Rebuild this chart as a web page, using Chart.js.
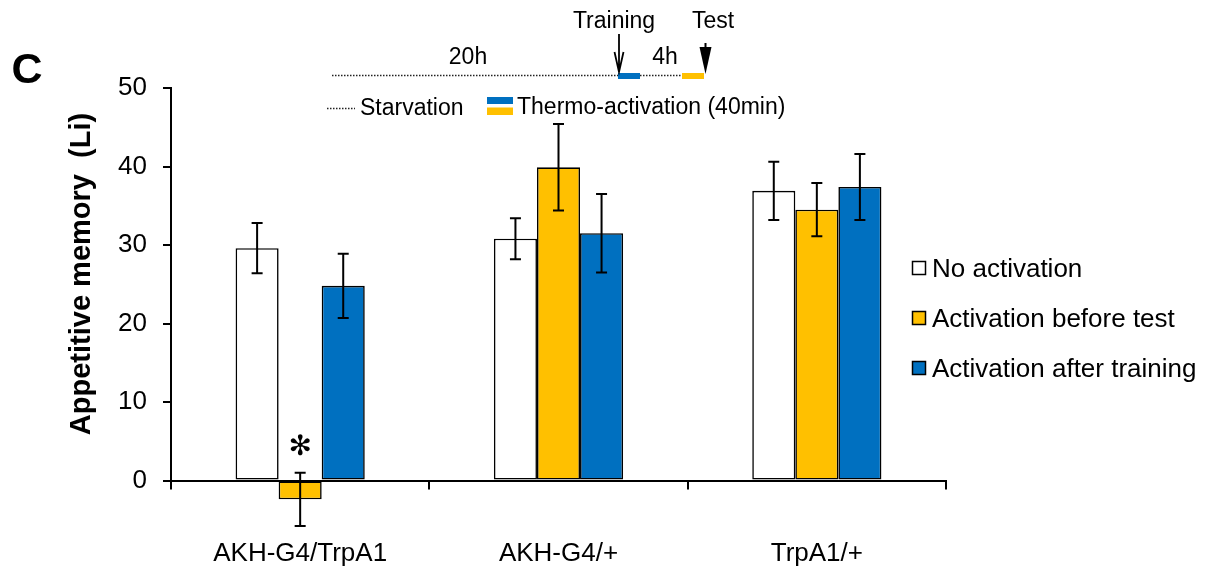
<!DOCTYPE html>
<html>
<head>
<meta charset="utf-8">
<title>Appetitive memory</title>
<script src="https://cdn.jsdelivr.net/npm/chart.js@4.4.1/dist/chart.umd.min.js"></script>
<style>
  html, body { margin: 0; padding: 0; background: #fff; }
  #wrap { position: relative; width: 1208px; height: 569px; }
</style>
</head>
<body>
<div id="wrap"><canvas id="chart"></canvas></div>
<script>
// Genotypes on the x axis
const categories = ['AKH-G4/TrpA1', 'AKH-G4/+', 'TrpA1/+'];

// Series names
const seriesNames = ['No activation', 'Activation before test', 'Activation after training'];

// Mean learning index per genotype
const noActivation = [29.6, 30.8, 36.9];
const activationBeforeTest = [-2.4, 39.9, 34.5];
const activationAfterTraining = [24.8, 31.5, 37.4];

// Standard error of the mean per genotype
const semNoActivation = [3.2, 2.6, 3.7];
const semBeforeTest = [3.4, 5.5, 3.4];
const semAfterTraining = [4.1, 5.0, 4.2];

// Y axis ticks
const yTicks = [0, 10, 20, 30, 40, 50];

// Significance marks: [series index, category index, symbol]
const significance = [[1, 0, '\u273B']];

const COLORS = ['#FFFFFF', '#FFC000', '#0070C0'];
const FONT = '"Liberation Sans", Arial, Helvetica, sans-serif';

const seriesValues = [noActivation, activationBeforeTest, activationAfterTraining];
const seriesErrors = [semNoActivation, semBeforeTest, semAfterTraining];

// Error bars with caps
const errorBars = {
  id: 'errorBars',
  afterDatasetsDraw(chart) {
    const ctx = chart.ctx;
    const y = chart.scales.y;
    ctx.save();
    ctx.strokeStyle = '#000';
    ctx.lineWidth = 2;
    chart.data.datasets.forEach((ds, i) => {
      const meta = chart.getDatasetMeta(i);
      meta.data.forEach((bar, j) => {
        const v = ds.data[j], e = ds.errors[j];
        const yt = y.getPixelForValue(v + e);
        const yb = y.getPixelForValue(v - e);
        const x = bar.x;
        ctx.beginPath();
        ctx.moveTo(x, yt); ctx.lineTo(x, yb);
        ctx.moveTo(x - 5.5, yt); ctx.lineTo(x + 5.5, yt);
        ctx.moveTo(x - 5.5, yb); ctx.lineTo(x + 5.5, yb);
        ctx.stroke();
      });
    });
    // significance symbols above the error bar
    ctx.fillStyle = '#000';
    ctx.font = 'bold 28px "DejaVu Sans", sans-serif';
    ctx.textAlign = 'center';
    ctx.textBaseline = 'middle';
    significance.forEach(([s, c, sym]) => {
      const bar = chart.getDatasetMeta(s).data[c];
      const v = seriesValues[s][c] + seriesErrors[s][c];
      ctx.fillText(sym, bar.x, y.getPixelForValue(v) - 25);
    });
    ctx.restore();
  }
};

// Panel letter, axis title, legend and protocol timeline
const decorations = {
  id: 'decorations',
  afterDraw(chart) {
    const ctx = chart.ctx;
    ctx.save();
    ctx.fillStyle = '#000';

    // panel letter
    ctx.font = 'bold 43px ' + FONT;
    ctx.textAlign = 'center';
    ctx.textBaseline = 'alphabetic';
    ctx.fillText('C', 27, 83);

    // y axis title
    ctx.save();
    ctx.translate(90, 274);
    ctx.rotate(-Math.PI / 2);
    ctx.font = 'bold 29px ' + FONT;
    ctx.textAlign = 'center';
    ctx.textBaseline = 'alphabetic';
    ctx.fillText('Appetitive memory  (Li)', 0, 0);
    ctx.restore();

    // series legend
    ctx.font = '26px ' + FONT;
    ctx.textAlign = 'left';
    ctx.textBaseline = 'middle';
    seriesNames.forEach((name, i) => {
      const cy = 268 + i * 50;
      ctx.fillStyle = COLORS[i];
      ctx.fillRect(912.5, cy - 6.5, 13, 13);
      ctx.strokeStyle = '#000';
      ctx.lineWidth = 1.5;
      ctx.strokeRect(912.5, cy - 6.5, 13, 13);
      ctx.fillStyle = '#000';
      ctx.fillText(name, 932, cy + 1.5);
    });

    // protocol timeline
    const dotted = (x1, x2, yy) => {
      ctx.save();
      ctx.strokeStyle = '#222';
      ctx.lineWidth = 1.5;
      ctx.setLineDash([1.5, 1.5]);
      ctx.beginPath();
      ctx.moveTo(x1, yy); ctx.lineTo(x2, yy);
      ctx.stroke();
      ctx.restore();
    };
    dotted(332, 618, 75.5);
    dotted(640, 682, 75.5);
    ctx.fillStyle = COLORS[2];
    ctx.fillRect(618, 73, 22, 6);
    ctx.fillStyle = COLORS[1];
    ctx.fillRect(682, 73, 22, 6);

    ctx.fillStyle = '#000';
    ctx.font = '23px ' + FONT;
    ctx.textAlign = 'center';
    ctx.textBaseline = 'middle';
    ctx.fillText('Training', 614, 22);
    ctx.fillText('Test', 713, 22);
    ctx.fillText('20h', 468, 58);
    ctx.fillText('4h', 665, 58);

    // training arrow (open head)
    ctx.strokeStyle = '#000';
    ctx.lineWidth = 1.8;
    ctx.beginPath();
    ctx.moveTo(619, 34); ctx.lineTo(619, 72);
    ctx.moveTo(614.5, 52); ctx.lineTo(619, 72); ctx.lineTo(623.5, 52);
    ctx.stroke();

    // test arrow (filled head)
    ctx.lineWidth = 2;
    ctx.beginPath();
    ctx.moveTo(705.5, 43); ctx.lineTo(705.5, 55);
    ctx.stroke();
    ctx.beginPath();
    ctx.moveTo(699.5, 47); ctx.lineTo(711.5, 47); ctx.lineTo(705.5, 74);
    ctx.closePath();
    ctx.fill();

    // timeline key
    dotted(327, 355, 108.5);
    ctx.font = '23px ' + FONT;
    ctx.textAlign = 'left';
    ctx.fillText('Starvation', 360, 109);
    ctx.fillStyle = COLORS[2];
    ctx.fillRect(487, 97, 26, 7);
    ctx.fillStyle = COLORS[1];
    ctx.fillRect(487, 107.5, 26, 7.5);
    ctx.fillStyle = '#000';
    ctx.fillText('Thermo-activation (40min)', 517, 108);

    ctx.restore();
  }
};

const datasets = seriesNames.map((name, i) => ({
  label: name,
  data: seriesValues[i],
  errors: seriesErrors[i],
  backgroundColor: COLORS[i],
  borderColor: '#000',
  borderWidth: 1.6,
  borderSkipped: false,
  categoryPercentage: 0.5,
  barPercentage: 1.0,
  clip: false
}));

new Chart(document.getElementById('chart'), {
  type: 'bar',
  data: { labels: categories, datasets },
  options: {
    responsive: true,
    maintainAspectRatio: false,
    animation: false,
    layout: { padding: { left: 0, top: 88, right: 262, bottom: 0 } },
    plugins: { legend: { display: false }, tooltip: { enabled: false } },
    scales: {
      x: {
        grid: {
          offset: true,
          drawOnChartArea: false,
          color: '#000',
          lineWidth: 2,
          tickLength: 9
        },
        border: { display: true, color: '#000', width: 2 },
        ticks: {
          color: '#000',
          padding: 49,
          font: { family: FONT, size: 26 }
        },
        afterFit(scale) { scale.height = 569 - 480.5; }
      },
      y: {
        min: 0,
        max: 50,
        afterBuildTicks(scale) { scale.ticks = yTicks.map(v => ({ value: v })); },
        grid: {
          drawOnChartArea: false,
          color: '#000',
          lineWidth: 2,
          tickLength: 8
        },
        border: { display: true, color: '#000', width: 2 },
        ticks: {
          color: '#000',
          padding: 16,
          font: { family: FONT, size: 26 }
        },
        afterFit(scale) { scale.width = 171; }
      }
    }
  },
  plugins: [errorBars, decorations]
});
</script>
</body>
</html>
